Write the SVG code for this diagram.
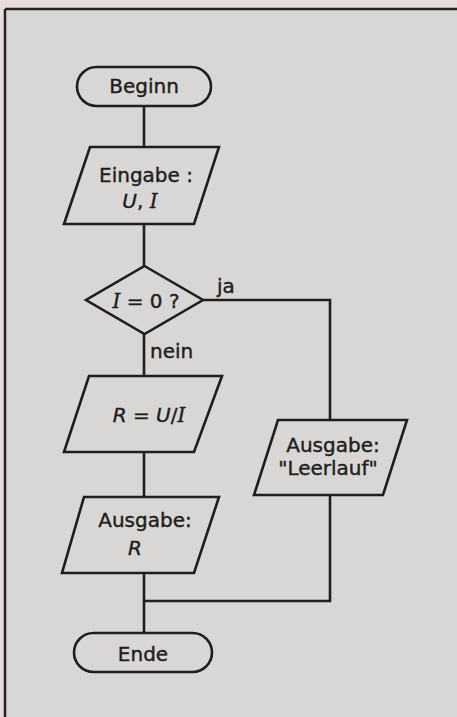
<svg xmlns="http://www.w3.org/2000/svg" width="457" height="717" viewBox="0 0 457 717">
<style>
.sh{fill:none;stroke:#1e1e1e;stroke-width:2.6;stroke-linejoin:miter}
.cn{fill:none;stroke:#1e1e1e;stroke-width:2.6}
text{font-family:"DejaVu Sans","Liberation Sans",sans-serif;font-size:20px;fill:#1e1e1e;stroke:#1e1e1e;stroke-width:0.4;text-anchor:middle}
.it{font-style:italic}
.si{font-family:"DejaVu Serif","Liberation Serif",serif;font-style:italic}
.lb{text-anchor:start}
</style>
<rect x="0" y="0" width="457" height="717" fill="#e6dcdb"/>
<rect x="5" y="9" width="452" height="708" fill="#d9d7d5"/>
<path d="M5 9 H457 M5 9 V717" fill="none" stroke="#222" stroke-width="2.5"/>
<g id="connectors">
<path class="cn" d="M144 106 V147"/>
<path class="cn" d="M144 224 V266"/>
<path class="cn" d="M203 300 H330 V420"/>
<path class="cn" d="M144 334 V376"/>
<path class="cn" d="M144 452 V497"/>
<path class="cn" d="M330 495 V601 H144"/>
<path class="cn" d="M144 573 V633"/>
<text class="lb" x="217" y="293">ja</text>
<text class="lb" x="150" y="358">nein</text>
</g>
<g id="beginn">
<rect class="sh" x="77" y="67" width="134" height="39" rx="19.5"/>
<text x="144" y="93">Beginn</text>
</g>
<g id="eingabe">
<path class="sh" d="M90 147 H219 L194 224 H64 Z"/>
<text x="146" y="182">Eingabe :</text>
<text x="140" y="208"><tspan class="it">U</tspan>, <tspan class="si">I</tspan></text>
</g>
<g id="decision">
<path class="sh" d="M144.5 266 L203 300 L144.5 334 L86 300 Z"/>
<text x="146" y="308"><tspan class="si">I</tspan> = 0 ?</text>
</g>
<g id="berechnung">
<path class="sh" d="M89 376 H222 L194 452 H64 Z"/>
<text x="149" y="422"><tspan class="it">R</tspan> = <tspan class="it">U</tspan>/<tspan class="si">I</tspan></text>
</g>
<g id="ausgabe-leerlauf">
<path class="sh" d="M278 420 H407 L383 495 H254 Z"/>
<text x="333" y="452">Ausgabe:</text>
<text x="328" y="475">"Leerlauf"</text>
</g>
<g id="ausgabe-r">
<path class="sh" d="M84 497 H219 L194 573 H62 Z"/>
<text x="145" y="527">Ausgabe:</text>
<text class="it" x="135" y="555">R</text>
</g>
<g id="ende">
<rect class="sh" x="74" y="633" width="138" height="39" rx="19.5"/>
<text x="143" y="661">Ende</text>
</g>
</svg>
